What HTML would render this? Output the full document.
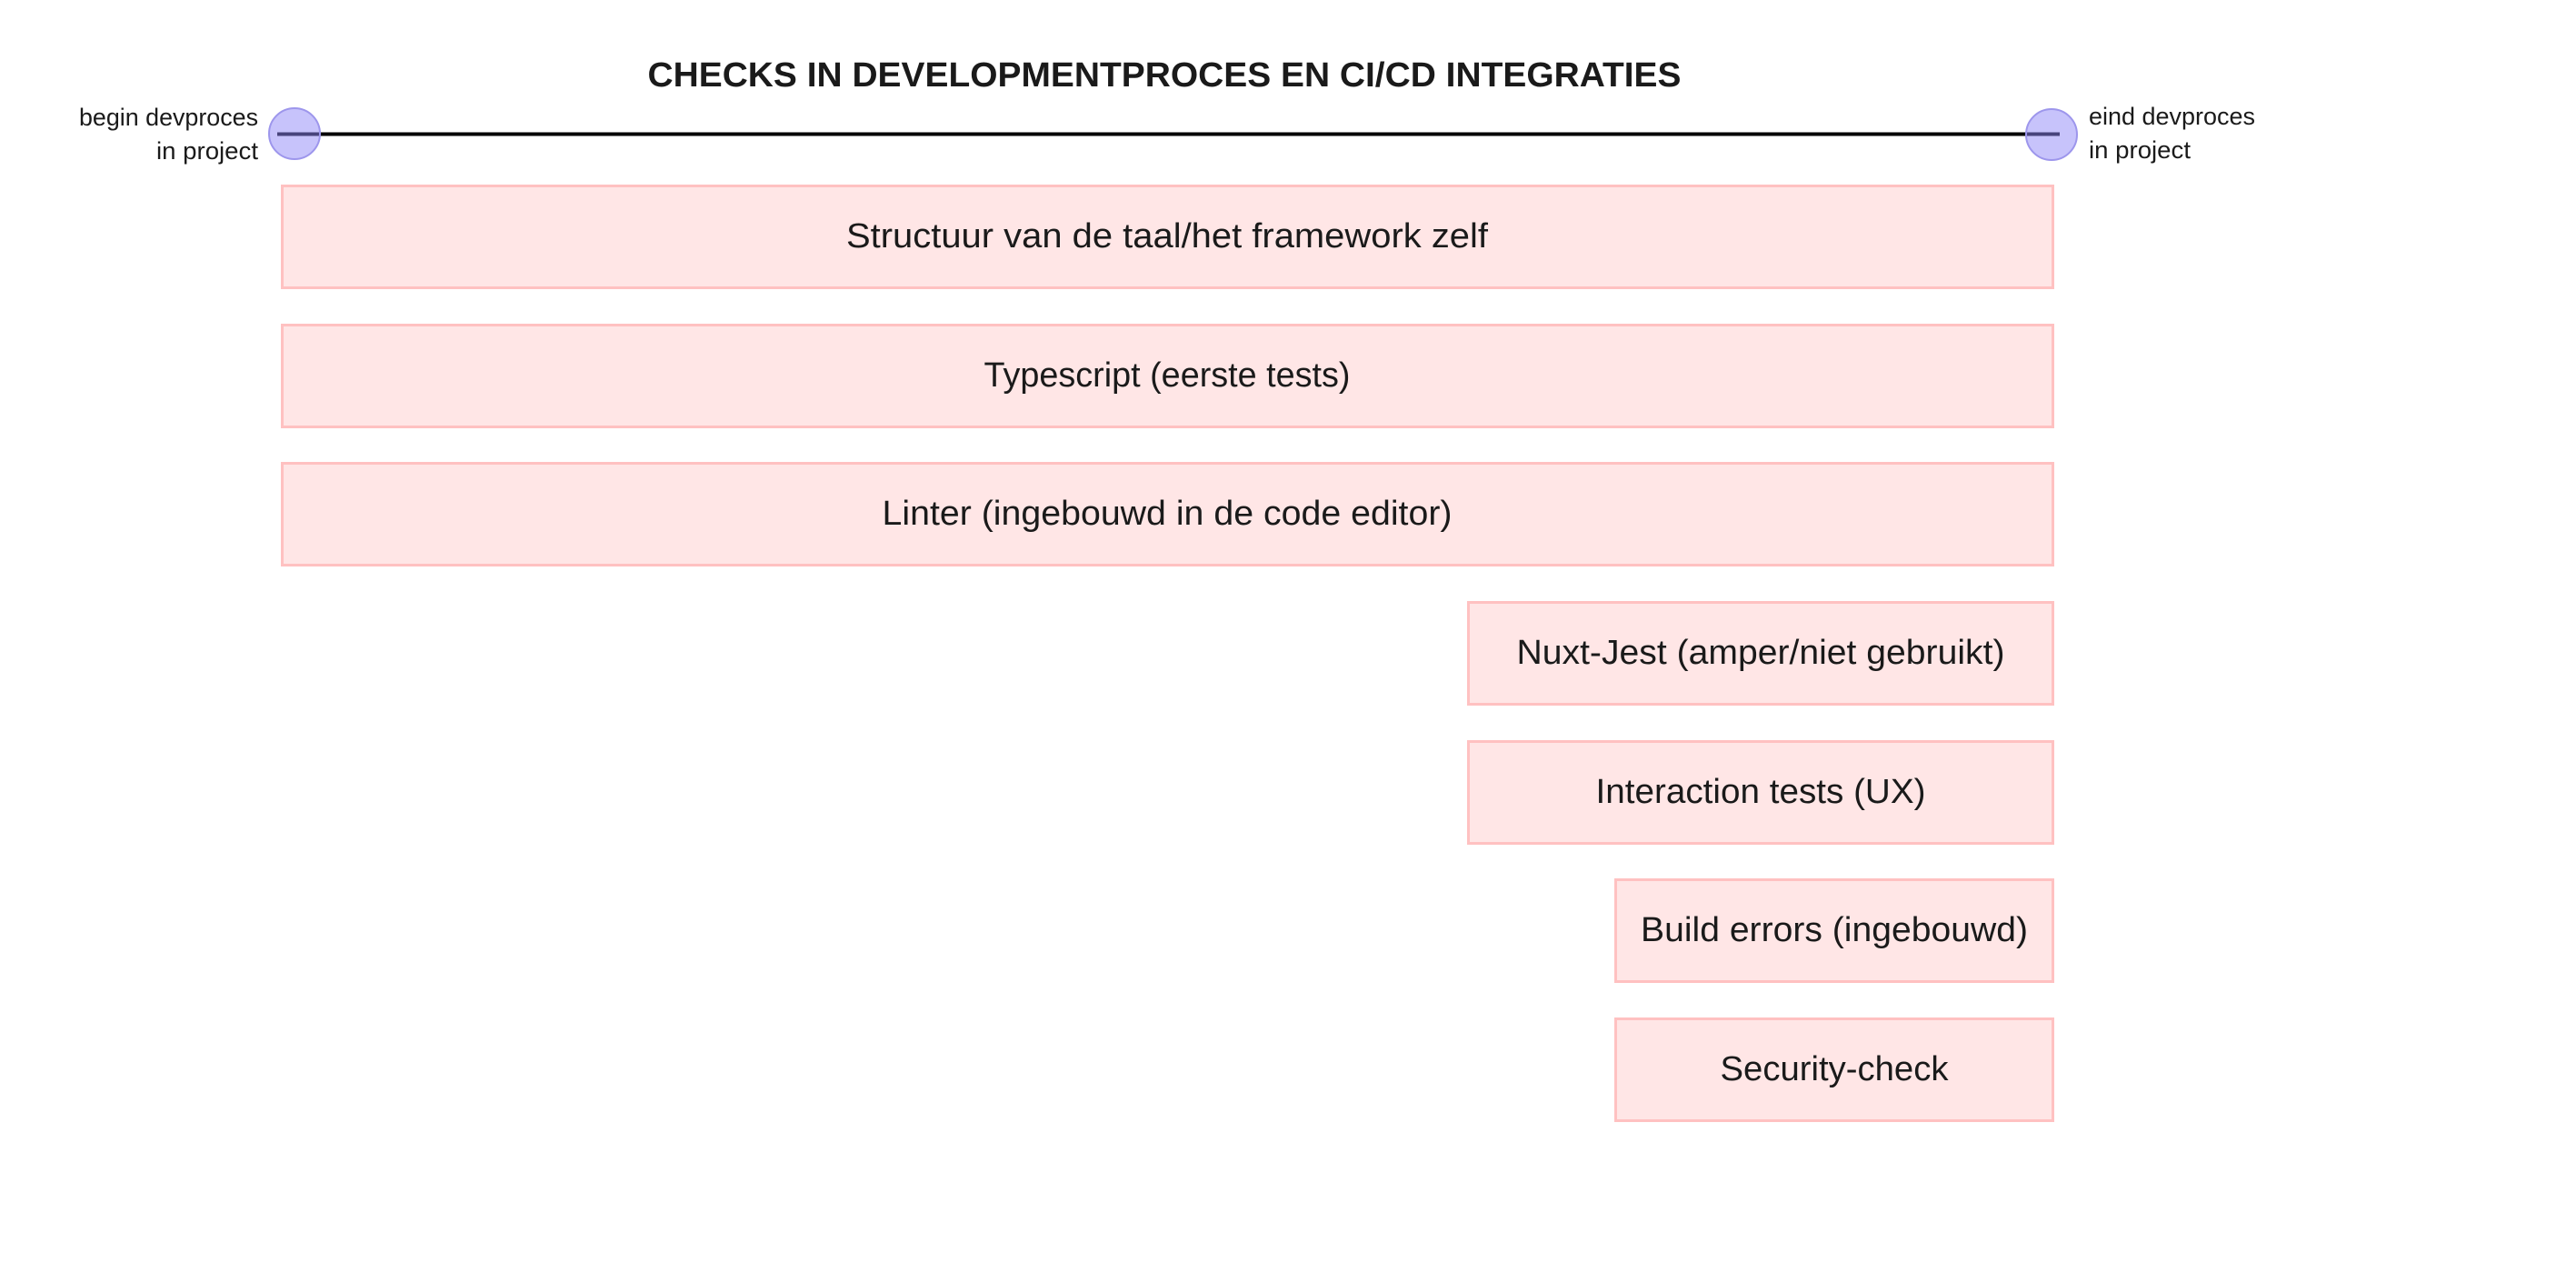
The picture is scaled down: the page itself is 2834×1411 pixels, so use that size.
<!DOCTYPE html>
<html><head><meta charset="utf-8"><style>html,body{margin:0;padding:0;background:#fff}svg{display:block}</style></head>
<body>
<svg width="2834" height="1411" viewBox="0 0 2834 1411" xmlns="http://www.w3.org/2000/svg" font-family="Liberation Sans, sans-serif">
<rect width="2834" height="1411" fill="#fff"/>
<text x="1281" y="95" text-anchor="middle" font-size="38" font-weight="bold" fill="#1a1a1a" textLength="1137" lengthAdjust="spacingAndGlyphs">CHECKS IN DEVELOPMENTPROCES EN CI/CD INTEGRATIES</text>
<line x1="305" y1="147.5" x2="2266" y2="147.5" stroke="#000" stroke-width="4"/>
<circle cx="324" cy="147" r="28" fill="#8f88f8" fill-opacity="0.5" stroke="#9d96ec" stroke-width="2"/>
<circle cx="2257" cy="148" r="28" fill="#8f88f8" fill-opacity="0.5" stroke="#9d96ec" stroke-width="2"/>
<g font-size="27" fill="#1a1a1a">
<text x="284" y="138" text-anchor="end" textLength="197" lengthAdjust="spacingAndGlyphs">begin devproces</text>
<text x="284" y="175" text-anchor="end" textLength="112" lengthAdjust="spacingAndGlyphs">in project</text>
<text x="2298" y="137" textLength="183" lengthAdjust="spacingAndGlyphs">eind devproces</text>
<text x="2298" y="174" textLength="112" lengthAdjust="spacingAndGlyphs">in project</text>
</g>
<g fill="#ffe6e6" stroke="#ffc1c1" stroke-width="3">
<rect x="310.5" y="204.5" width="1948" height="112"/>
<rect x="310.5" y="357.5" width="1948" height="112"/>
<rect x="310.5" y="509.5" width="1948" height="112"/>
<rect x="1615.5" y="662.5" width="643" height="112"/>
<rect x="1615.5" y="815.5" width="643" height="112"/>
<rect x="1777.5" y="967.5" width="481" height="112"/>
<rect x="1777.5" y="1120.5" width="481" height="112"/>
</g>
<g font-size="38" fill="#1a1a1a" text-anchor="middle">
<text x="1284" y="272" textLength="706" lengthAdjust="spacingAndGlyphs">Structuur van de taal/het framework zelf</text>
<text x="1284" y="425" textLength="403" lengthAdjust="spacingAndGlyphs">Typescript (eerste tests)</text>
<text x="1284" y="577" textLength="627" lengthAdjust="spacingAndGlyphs">Linter (ingebouwd in de code editor)</text>
<text x="1937" y="730" textLength="537" lengthAdjust="spacingAndGlyphs">Nuxt-Jest (amper/niet gebruikt)</text>
<text x="1937" y="883" textLength="363" lengthAdjust="spacingAndGlyphs">Interaction tests (UX)</text>
<text x="2018" y="1035" textLength="426" lengthAdjust="spacingAndGlyphs">Build errors (ingebouwd)</text>
<text x="2018" y="1188" textLength="251" lengthAdjust="spacingAndGlyphs">Security-check</text>
</g>
</svg>
</body></html>
